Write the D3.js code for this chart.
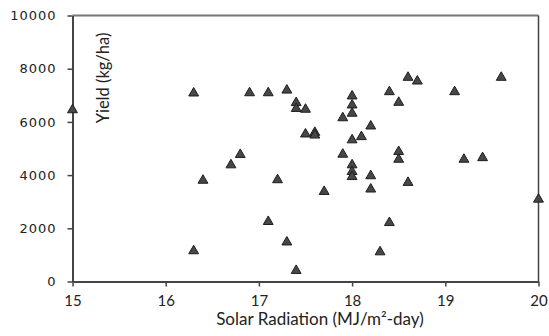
<!DOCTYPE html>
<html>
<head>
<meta charset="utf-8">
<script src="https://cdn.jsdelivr.net/npm/d3@7"></script>
<style>
  body { margin: 0; background: #fff; }
  svg { display: block; }
</style>
</head>
<body>
<div class="chart_container"></div>
<script>
// solar radiation (MJ/m2-day) and yield (kg/ha)
const radiation = [15.0, 16.3, 16.3, 16.4, 16.7, 16.8, 16.9, 17.1, 17.1, 17.2,
  17.3, 17.3, 17.4, 17.4, 17.4, 17.5, 17.5, 17.6, 17.6, 17.7,
  17.9, 17.9, 18.0, 18.0, 18.0, 18.0, 18.0, 18.0, 18.0, 18.1,
  18.2, 18.2, 18.2, 18.3, 18.4, 18.4, 18.5, 18.5, 18.5, 18.6,
  18.6, 18.7, 19.1, 19.2, 19.4, 19.6, 20.0];
const yieldKg = [6450, 7080, 1150, 3800, 4380, 4770, 7090, 7090, 2250, 3820,
  7190, 1480, 6720, 6500, 410, 6470, 5540, 5600, 5500, 3380,
  6150, 4780, 6970, 6630, 6320, 5320, 4380, 4130, 3940, 5440,
  5840, 3970, 3470, 1110, 7130, 2210, 6730, 4880, 4590, 7670,
  3720, 7530, 7130, 4590, 4650, 7670, 3090];
const xTicks = [15, 16, 17, 18, 19, 20];
const yTicks = [0, 2000, 4000, 6000, 8000, 10000];

const width = 549, height = 336;
const margin = { top: 15.5, right: 10.5, bottom: 54.5, left: 72.5 };

const svg = d3.select('div.chart_container').append('svg')
  .attr('width', width)
  .attr('height', height);

const xScale = d3.scaleLinear().domain([15, 20]).range([margin.left, width - margin.right]);
const yScale = d3.scaleLinear().domain([0, 10000]).range([height - margin.bottom, margin.top]);

// frame: top and right lines
svg.append('line')
  .attr('x1', margin.left).attr('x2', width - margin.right)
  .attr('y1', margin.top).attr('y2', margin.top)
  .attr('stroke', '#777').attr('stroke-width', 2);
svg.append('line')
  .attr('x1', width - margin.right).attr('x2', width - margin.right)
  .attr('y1', margin.top).attr('y2', height - margin.bottom)
  .attr('stroke', '#444').attr('stroke-width', 1.5);

const xAxis = svg.append('g')
  .attr('transform', `translate(0,${height - margin.bottom})`)
  .call(d3.axisBottom(xScale).tickValues(xTicks).tickFormat(d3.format('d'))
    .tickSize(5).tickPadding(9).tickSizeOuter(0));

const yAxis = svg.append('g')
  .attr('transform', `translate(${margin.left},0)`)
  .call(d3.axisLeft(yScale).tickValues(yTicks).tickFormat(d3.format('d'))
    .tickSize(5).tickPadding(11).tickSizeOuter(0));

[xAxis, yAxis].forEach(ax => {
  ax.select('.domain').attr('stroke', '#444').attr('stroke-width', 2);
  ax.selectAll('.tick line').attr('stroke', '#444').attr('stroke-width', 1.5);
});
xAxis.selectAll('.tick text')
  .attr('font-family', 'Lato, sans-serif').attr('font-size', 15).attr('fill', '#222');
yAxis.selectAll('.tick text')
  .attr('font-family', '"DejaVu Sans", sans-serif').attr('font-size', 13)
  .attr('letter-spacing', 1).attr('fill', '#222');

// axis titles
svg.append('text')
  .attr('x', 320).attr('y', 325)
  .attr('text-anchor', 'middle')
  .attr('font-family', 'Lato, sans-serif').attr('font-size', 17).attr('fill', '#222')
  .text('Solar Radiation (MJ/m²-day)');

svg.append('text')
  .attr('transform', 'translate(109,78) rotate(-90)')
  .attr('text-anchor', 'middle')
  .attr('font-family', 'Lato, sans-serif').attr('font-size', 16.5).attr('fill', '#222')
  .text('Yield (kg/ha)');

// points
svg.append('g').selectAll('path')
  .data(radiation).enter().append('path')
  .attr('d', d3.symbol().type(d3.symbolTriangle).size(42))
  .attr('transform', (d, i) => `translate(${xScale(d)},${yScale(yieldKg[i])})`)
  .attr('fill', '#474747')
  .attr('stroke', '#1e1e1e')
  .attr('stroke-width', 1);
</script>
</body>
</html>
